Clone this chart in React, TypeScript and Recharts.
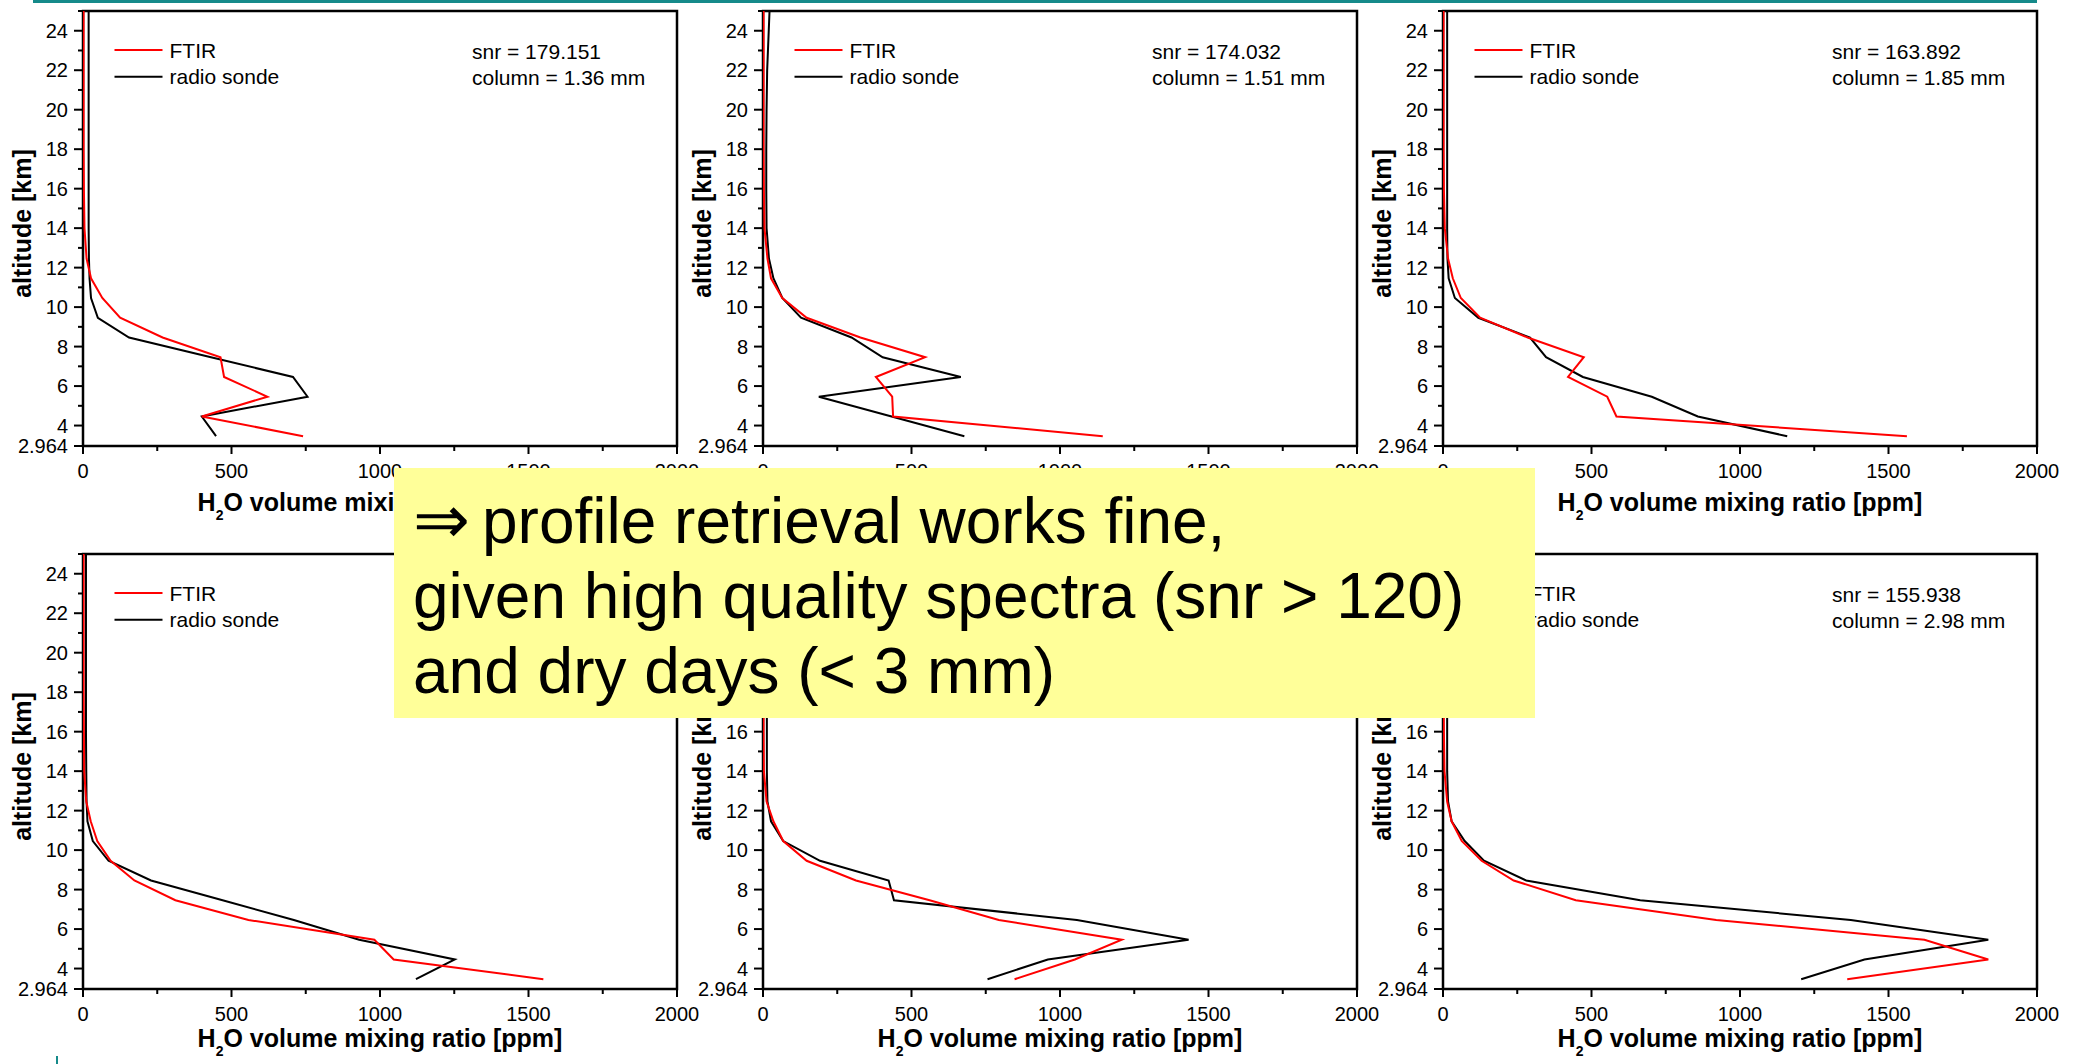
import React from 'react';
import { ScatterChart, Scatter, XAxis, YAxis, ReferenceArea } from 'recharts';

// ---------- data ----------
const LEVELS = [3.46, 4.46, 5.46, 6.46, 7.46, 8.46, 9.46, 10.46, 11.46, 12.46, 14, 16, 18, 20, 22, 25];

const FTIR_1 = [741, 400, 621, 475, 463, 268, 125, 65, 27, 12, 5, 3, 2, 2, 2, 2];
const SONDE_1 = [448, 400, 756, 707, 431, 155, 50, 27, 22, 20, 19, 19, 19, 19, 19, 19];

const FTIR_2 = [1144, 438, 435, 380, 546, 328, 147, 65, 27, 15, 5, 3, 2, 2, 2, 2];
const SONDE_2 = [678, 433, 188, 666, 403, 298, 128, 65, 35, 20, 12, 11, 11, 12, 14, 22];

const FTIR_3 = [1562, 584, 553, 421, 474, 285, 125, 60, 33, 17, 6, 3, 2, 2, 2, 2];
const SONDE_3 = [1159, 858, 703, 471, 347, 293, 119, 40, 19, 15, 14, 14, 14, 14, 14, 14];

const FTIR_4 = [1550, 1046, 981, 557, 311, 173, 93, 48, 26, 11, 4, 3, 2, 2, 2, 2];
const SONDE_4 = [1121, 1252, 930, 710, 470, 229, 86, 33, 15, 12, 11, 10, 10, 10, 10, 10];

const FTIR_5 = [847, 1050, 1208, 794, 561, 313, 147, 68, 35, 12, 3, 2, 2, 2, 2, 2];
const SONDE_5 = [756, 959, 1433, 1057, 441, 423, 192, 68, 27, 15, 13, 13, 13, 13, 13, 13];

const FTIR_6 = [1361, 1836, 1621, 920, 447, 238, 130, 63, 29, 14, 5, 3, 2, 2, 2, 2];
const SONDE_6 = [1206, 1419, 1836, 1373, 664, 280, 138, 73, 29, 17, 14, 14, 14, 14, 14, 14];

const SNR = ['179.151', '174.032', '163.892', null, null, '155.938'];
const COLUMN = ['1.36', '1.51', '1.85', null, null, '2.98'];

const X_DOMAIN: [number, number] = [0, 2000];
const Y_DOMAIN: [number, number] = [2.964, 25];
const X_TICKS_MAJOR = [0, 500, 1000, 1500, 2000];
const X_TICKS_MINOR = [250, 750, 1250, 1750];
const Y_TICKS_MAJOR = [2.964, 4, 6, 8, 10, 12, 14, 16, 18, 20, 22, 24];
const Y_TICKS_MINOR = [5, 7, 9, 11, 13, 15, 17, 19, 21, 23, 25];

const LEGEND_NAMES = ['FTIR', 'radio sonde'];
const X_TITLE_MAIN = 'H';
const X_TITLE_SUB = '2';
const X_TITLE_REST = 'O volume mixing ratio [ppm]';
const Y_TITLE = 'altitude [km]';
const NOTE_ARROW = '\u21D2';
const NOTE_LINES = ['profile retrieval works fine,', 'given high quality spectra (snr > 120)', 'and dry days (< 3 mm)'];

// ---------- layout ----------
const FONT = '"Liberation Sans", Arial, Helvetica, sans-serif';
const Y_AXIS_W = 83;
const PLOT_W = 594;
const PLOT_H = 435;
const CHART_W = 720;
const MARGIN_TOP = 11;
const X_AXIS_H = 80;
const CHART_H = MARGIN_TOP + PLOT_H + X_AXIS_H;
const ROW_TOPS = [11, 554];
const COL_LEFTS = [83, 763, 1443];
const X_TITLE_OFFSET = [65, 58];
const NOTE_BOX = { l: 394, t: 468, r: 1535, b: 718 };

// true when a text box (page coords) lies fully under the note box
const covered = (l: number, t: number, r: number, b: number) =>
  l >= NOTE_BOX.l && r <= NOTE_BOX.r && t >= NOTE_BOX.t && b <= NOTE_BOX.b;

const toPts = (vals: number[]) => LEVELS.map((y, i) => ({ x: vals[i], y }));

const PANELS = [
  { ftir: FTIR_1, sonde: SONDE_1 },
  { ftir: FTIR_2, sonde: SONDE_2 },
  { ftir: FTIR_3, sonde: SONDE_3 },
  { ftir: FTIR_4, sonde: SONDE_4 },
  { ftir: FTIR_5, sonde: SONDE_5 },
  { ftir: FTIR_6, sonde: SONDE_6 },
];

const Empty = () => <g />;

const XTick = (props: any) => {
  const { x, y, payload, ox = 0, oy = 0 } = props;
  const v = payload.value;
  const major = X_TICKS_MAJOR.includes(v);
  const label = String(v);
  const w = label.length * 11.2;
  const hide = covered(ox + x - w / 2, oy + y + 17, ox + x + w / 2, oy + y + 32);
  return (
    <g>
      <line x1={x} x2={x} y1={y} y2={y + (major ? 8 : 5)} stroke="#000" strokeWidth={2} />
      {major && !hide && (
        <text x={x} y={y + 31.5} textAnchor="middle" fontSize={20} fontFamily={FONT} fill="#000">
          {label}
        </text>
      )}
    </g>
  );
};

const YTick = (props: any) => {
  const { x, y, payload, ox = 0, oy = 0 } = props;
  const v = payload.value;
  const major = Y_TICKS_MAJOR.includes(v);
  const label = String(v);
  const w = label.length * 11.2;
  const hide = covered(ox + x - 15 - w, oy + y - 8, ox + x - 15, oy + y + 8);
  return (
    <g>
      <line x1={x - (major ? 9 : 5)} x2={x} y1={y} y2={y} stroke="#000" strokeWidth={2} />
      {major && !hide && (
        <text x={x - 15} y={y} dy={7} textAnchor="end" fontSize={20} fontFamily={FONT} fill="#000">
          {label}
        </text>
      )}
    </g>
  );
};

const XTitle = (props: any) => {
  const { ox = 0, oy = 0, off = 63 } = props;
  const vb = props.viewBox || {};
  const cx = vb.x + vb.width / 2;
  const by = vb.y + off;
  if (covered(ox + cx - 180, oy + by - 20, ox + cx + 180, oy + by + 8)) return null;
  return (
    <text x={cx} y={by} textAnchor="middle" fontSize={25} fontWeight="bold" fontFamily={FONT} fill="#000">
      {X_TITLE_MAIN}
      <tspan dy={9} fontSize={14}>{X_TITLE_SUB}</tspan>
      <tspan dy={-9}>{X_TITLE_REST}</tspan>
    </text>
  );
};

const YTitle = (props: any) => {
  const vb = props.viewBox || {};
  const bx = vb.x + 31;
  const cy = vb.y + vb.height / 2 - 5;
  return (
    <text
      x={bx}
      y={cy}
      transform={`rotate(-90, ${bx}, ${cy})`}
      textAnchor="middle"
      fontSize={25}
      fontWeight="bold"
      fontFamily={FONT}
      fill="#000"
    >
      {Y_TITLE}
    </text>
  );
};

function Panel({ idx }: { idx: number }) {
  const p = PANELS[idx];
  const row = idx < 3 ? 0 : 1;
  const col = idx % 3;
  const plotLeft = COL_LEFTS[col];
  const plotTop = ROW_TOPS[row];
  const left = plotLeft - Y_AXIS_W;
  const top = plotTop - MARGIN_TOP;
  const snr = SNR[idx];
  const column = COLUMN[idx];
  const lx = Y_AXIS_W; // plot left within chart
  const ly = MARGIN_TOP;
  const legendHidden = covered(left + lx + 31, top + ly + 28, left + lx + 200, top + ly + 78);
  const snrHidden = covered(left + lx + 389, top + ly + 30, left + lx + 585, top + ly + 80);
  return (
    <div style={{ position: 'absolute', left, top, width: CHART_W, height: CHART_H }}>
      <ScatterChart
        width={CHART_W}
        height={CHART_H}
        margin={{ top: MARGIN_TOP, right: CHART_W - Y_AXIS_W - PLOT_W, bottom: 0, left: 0 }}
      >
        <XAxis
          type="number"
          dataKey="x"
          domain={X_DOMAIN}
          ticks={[...X_TICKS_MAJOR, ...X_TICKS_MINOR].sort((a, b) => a - b)}
          interval={0}
          tickSize={0}
          tickMargin={0}
          tickLine={false}
          axisLine={false}
          tick={<XTick ox={left} oy={top} />}
          height={X_AXIS_H}
          allowDataOverflow
          label={<XTitle ox={left} oy={top} off={X_TITLE_OFFSET[row]} />}
        />
        <YAxis
          type="number"
          dataKey="y"
          domain={Y_DOMAIN}
          ticks={[...Y_TICKS_MAJOR, ...Y_TICKS_MINOR].sort((a, b) => a - b)}
          interval={0}
          tickSize={0}
          tickMargin={0}
          tickLine={false}
          axisLine={false}
          tick={<YTick ox={left} oy={top} />}
          width={Y_AXIS_W}
          allowDataOverflow
          label={<YTitle />}
        />
        <Scatter
          data={toPts(p.sonde)}
          fill="#000"
          line={{ stroke: '#000', strokeWidth: 2 }}
          lineType="joint"
          shape={<Empty />}
          isAnimationActive={false}
        />
        <Scatter
          data={toPts(p.ftir)}
          fill="#ff0000"
          line={{ stroke: '#ff0000', strokeWidth: 2 }}
          lineType="joint"
          shape={<Empty />}
          isAnimationActive={false}
        />
        <ReferenceArea
          x1={X_DOMAIN[0]}
          x2={X_DOMAIN[1]}
          y1={Y_DOMAIN[0]}
          y2={Y_DOMAIN[1]}
          fill="none"
          fillOpacity={0}
          stroke="#000"
          strokeWidth={2.5}
          ifOverflow="visible"
        />
      </ScatterChart>
      <svg
        width={CHART_W}
        height={CHART_H}
        style={{ position: 'absolute', left: 0, top: 0, pointerEvents: 'none' }}
      >
        {!legendHidden && (
          <g>
            <line x1={lx + 31.5} x2={lx + 79.5} y1={ly + 39} y2={ly + 39} stroke="#ff0000" strokeWidth={2} />
            <text x={lx + 86.5} y={ly + 47.3} fontSize={21} fontFamily={FONT} fill="#000">
              {LEGEND_NAMES[0]}
            </text>
            <line x1={lx + 31.5} x2={lx + 79.5} y1={ly + 65.7} y2={ly + 65.7} stroke="#000" strokeWidth={2} />
            <text x={lx + 86.5} y={ly + 73.3} fontSize={21} fontFamily={FONT} fill="#000">
              {LEGEND_NAMES[1]}
            </text>
          </g>
        )}
        {snr && !snrHidden && (
          <text x={lx + 389} y={ly + 48} fontSize={21} fontFamily={FONT} fill="#000">
            {`snr = ${snr}`}
          </text>
        )}
        {column && !snrHidden && (
          <text x={lx + 389} y={ly + 74} fontSize={21} fontFamily={FONT} fill="#000">
            {`column = ${column} mm`}
          </text>
        )}
      </svg>
    </div>
  );
}

export default function App() {
  return (
    <div
      style={{
        position: 'absolute',
        left: 0,
        top: 0,
        width: 2081,
        height: 1064,
        overflow: 'hidden',
        background: '#ffffff',
        fontFamily: FONT,
      }}
    >
      <div style={{ position: 'absolute', left: 33, top: 0, width: 2004, height: 3, background: '#158a8a' }} />
      <div style={{ position: 'absolute', left: 56, top: 1056, width: 2, height: 8, background: '#158a8a' }} />
      {PANELS.map((_, i) => (
        <Panel key={i} idx={i} />
      ))}
      <div
        style={{
          position: 'absolute',
          left: 394,
          top: 468,
          width: 1141,
          height: 250,
          background: '#ffff99',
          boxSizing: 'border-box',
          paddingTop: 14,
          paddingLeft: 19,
          fontSize: 64,
          lineHeight: '75px',
          color: '#000',
          whiteSpace: 'pre',
          fontFamily: FONT,
        }}
      >
        {NOTE_LINES.map((t, i) => (
          <div key={i}>
            {i === 0 && <span style={{ marginRight: 12, fontSize: 68 }}>{NOTE_ARROW}</span>}
            {t}
          </div>
        ))}
      </div>
    </div>
  );
}
